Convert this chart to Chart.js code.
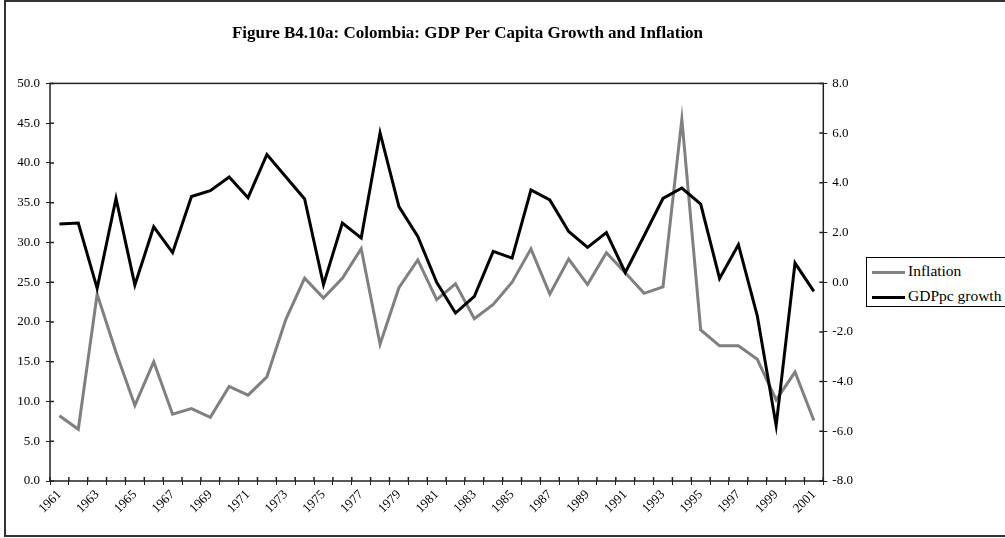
<!DOCTYPE html>
<html>
<head>
<meta charset="utf-8">
<script src="https://cdn.jsdelivr.net/npm/chart.js@4/dist/chart.umd.min.js"></script>
<style>
  body { margin: 0; background: #fff; }
  #wrap { position: relative; width: 1005px; height: 538px; }
  #legend {
    position: absolute; left: 866px; top: 257px; width: 140px; height: 48px;
    border: 1px solid #000; background: #fff; box-sizing: content-box;
    font-family: "Liberation Serif", "Times New Roman", serif; font-size: 15.5px; color: #000;
  }
  #legend .item { position: absolute; left: 5px; height: 20px; line-height: 20px; white-space: nowrap; }
  #legend .swatch { display: inline-block; width: 33px; height: 3px; vertical-align: middle; margin-right: 3px; }
</style>
</head>
<body>
<div id="wrap">
  <canvas id="chart" width="1005" height="538"></canvas>
  <div id="legend"></div>
</div>
<script>
// Colombia: GDP per capita growth (right axis) and inflation (left axis), 1961-2001

const years = ['1961', '1962', '1963', '1964', '1965', '1966', '1967', '1968', '1969', '1970',
  '1971', '1972', '1973', '1974', '1975', '1976', '1977', '1978', '1979', '1980',
  '1981', '1982', '1983', '1984', '1985', '1986', '1987', '1988', '1989', '1990',
  '1991', '1992', '1993', '1994', '1995', '1996', '1997', '1998', '1999', '2000', '2001'];

// only every other year gets a label on the axis
const shownYears = ['1961', '1963', '1965', '1967', '1969', '1971', '1973', '1975', '1977', '1979',
  '1981', '1983', '1985', '1987', '1989', '1991', '1993', '1995', '1997', '1999', '2001'];

const inflation = [8.2, 6.5, 23.5, 16.2, 9.5, 15.0, 8.4, 9.1, 8.0, 11.9,
  10.8, 13.1, 20.3, 25.5, 23.0, 25.5, 29.2, 17.2, 24.3, 27.8,
  22.8, 24.8, 20.4, 22.2, 25.0, 29.2, 23.5, 27.9, 24.7, 28.7,
  26.2, 23.6, 24.4, 45.5, 19.0, 17.0, 17.0, 15.3, 10.2, 13.7, 7.6];

const gdpGrowth = [2.34, 2.38, -0.25, 3.37, -0.11, 2.23, 1.19, 3.45, 3.68, 4.23,
  3.40, 5.14, 4.24, 3.35, -0.10, 2.38, 1.78, 6.01, 3.04, 1.84,
  0.0, -1.24, -0.57, 1.24, 0.97, 3.71, 3.31, 2.04, 1.40, 2.00,
  0.39, 1.87, 3.37, 3.79, 3.14, 0.15, 1.51, -1.35, -5.77, 0.77, -0.37];

const serif = '"Liberation Serif", "Times New Roman", serif';
const tickFont = { family: serif, size: 13 };

// outer frame of the figure + box round the plot + ticks that cross the axes
const framePlugin = {
  id: 'frame',
  beforeDraw(chart) {
    const ctx = chart.ctx;
    ctx.save();
    ctx.fillStyle = '#fff';
    ctx.fillRect(0, 0, chart.width, chart.height);
    ctx.strokeStyle = '#333';
    ctx.lineWidth = 2;
    ctx.strokeRect(5, 1, chart.width + 20, 535);
    ctx.restore();
  },
  afterDatasetsDraw(chart) {
    const ctx = chart.ctx;
    const a = chart.chartArea;
    ctx.save();
    ctx.strokeStyle = '#222';
    ctx.lineWidth = 1.5;
    ctx.strokeRect(a.left, a.top, a.right - a.left, a.bottom - a.top);
    ctx.beginPath();
    const y = chart.scales.y, y1 = chart.scales.y1, x = chart.scales.x;
    y.ticks.forEach((t, i) => {
      const p = y.getPixelForTick(i);
      ctx.moveTo(a.left, p); ctx.lineTo(a.left + 4, p);
    });
    y1.ticks.forEach((t, i) => {
      const p = y1.getPixelForTick(i);
      ctx.moveTo(a.right, p); ctx.lineTo(a.right - 4, p);
    });
    const half = (x.getPixelForValue(1) - x.getPixelForValue(0)) / 2;
    for (let i = 0; i <= years.length; i++) {
      const p = x.getPixelForValue(i) - half;
      ctx.moveTo(p, a.bottom); ctx.lineTo(p, a.bottom - 4);
    }
    ctx.stroke();
    ctx.restore();
  }
};

const chart = new Chart(document.getElementById('chart'), {
  type: 'line',
  data: {
    labels: years,
    datasets: [
      {
        label: 'Inflation',
        data: inflation,
        yAxisID: 'y',
        borderColor: '#808080',
        backgroundColor: '#808080',
        borderWidth: 3,
        pointRadius: 0,
        tension: 0,
        borderJoinStyle: 'miter',
        order: 1
      },
      {
        label: 'GDPpc growth',
        data: gdpGrowth,
        yAxisID: 'y1',
        borderColor: '#000',
        backgroundColor: '#000',
        borderWidth: 3,
        pointRadius: 0,
        tension: 0,
        borderJoinStyle: 'miter',
        order: 0
      }
    ]
  },
  options: {
    responsive: false,
    animation: false,
    layout: { padding: { left: 5, right: 75, top: 1, bottom: 0 } },
    plugins: {
      legend: { display: false },
      tooltip: { enabled: false },
      title: {
        display: true,
        text: 'Figure B4.10a: Colombia: GDP Per Capita Growth and Inflation',
        color: '#000',
        font: { family: serif, size: 17, weight: 'bold' },
        padding: { top: 22, bottom: 40 }
      }
    },
    scales: {
      x: {
        offset: true,
        grid: { display: true, offset: true, drawOnChartArea: false, tickLength: 4, color: '#222', lineWidth: 1 },
        border: { display: false },
        afterFit: (scale) => { scale.height = 57; },
        ticks: {
          autoSkip: false,
          maxRotation: 45,
          minRotation: 45,
          padding: 2,
          color: '#000',
          font: tickFont,
          callback: function(value) {
            const lab = this.getLabelForValue(value);
            return shownYears.includes(lab) ? lab : '';
          }
        }
      },
      y: {
        position: 'left',
        min: 0,
        max: 50,
        grid: { drawOnChartArea: false, tickLength: 4, color: '#222' },
        border: { display: false },
        afterFit: (scale) => { scale.width = 45; },
        ticks: {
          stepSize: 5,
          padding: 6,
          color: '#000',
          font: tickFont,
          callback: (v) => v.toFixed(1)
        }
      },
      y1: {
        position: 'right',
        min: -8,
        max: 8,
        grid: { drawOnChartArea: false, tickLength: 4, color: '#222' },
        border: { display: false },
        afterFit: (scale) => { scale.width = 106.7; },
        ticks: {
          stepSize: 2,
          padding: 5,
          color: '#000',
          font: tickFont,
          callback: (v) => v.toFixed(1)
        }
      }
    }
  },
  plugins: [framePlugin]
});

// legend as html, built from the datasets
const legend = document.getElementById('legend');
chart.data.datasets.forEach((ds, i) => {
  const div = document.createElement('div');
  div.className = 'item';
  div.style.top = (3 + i * 25) + 'px';
  div.innerHTML = `<span class="swatch" style="background:${ds.borderColor}"></span>${ds.label}`;
  legend.appendChild(div);
});
</script>
</body>
</html>
